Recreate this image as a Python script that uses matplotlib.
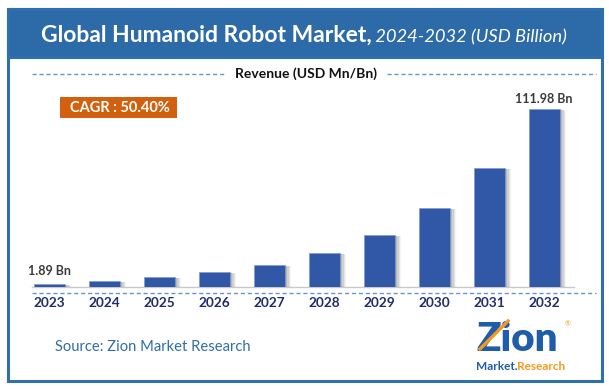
import matplotlib
matplotlib.use("Agg")
import matplotlib.pyplot as plt
from matplotlib.patches import Rectangle

# ---- data ----
years = ["2023", "2024", "2025", "2026", "2027", "2028", "2029", "2030", "2031", "2032"]
revenue = [1.89, 4.0, 6.7, 9.8, 14.2, 21.8, 33.1, 49.7, 74.9, 111.98]
label_first = "1.89 Bn"
label_last = "111.98 Bn"
title_bold = "Global Humanoid Robot Market,"
title_ital = " 2024-2032 (USD Billion)"
subtitle = "Revenue (USD Mn/Bn)"
cagr_text = "CAGR : 50.40%"
source_text = "Source: Zion Market Research"

W, H = 609, 389
FONT = "Lato"
fig = plt.figure(figsize=(W / 100, H / 100), dpi=100)
fig.patch.set_facecolor("white")

bg = fig.add_axes([0, 0, 1, 1])
bg.set_xlim(0, W)
bg.set_ylim(H, 0)
bg.axis("off")
r = fig.canvas.get_renderer()

border_c = "#2E6FAD"
header_c = "#2C6BA8"
# outer frame and header
bg.add_patch(Rectangle((7.5, 8.5), 594, 372, fill=False, edgecolor=border_c, lw=2.2, zorder=2))
bg.add_patch(Rectangle((7.5, 8.5), 594, 48.5, facecolor=header_c, edgecolor=border_c, lw=2.2, zorder=2))

# title (bold + italic parts, centered together)
t1 = bg.text(0, 42, title_bold, color="white", fontsize=16.5, fontweight="bold",
             family=FONT, ha="left", va="baseline", zorder=3)
t2 = bg.text(0, 42, title_ital, color="white", fontsize=13.2, fontstyle="italic",
             family=FONT, ha="left", va="baseline", zorder=3)
w1 = t1.get_window_extent(r).width
w2 = t2.get_window_extent(r).width
x0 = 304 - (w1 + w2) / 2
t1.set_x(x0)
t2.set_x(x0 + w1)

# subtitle with dashed lines
bg.plot([32, 225], [74, 74], color="#6F93CC", lw=1.0, ls=(0, (3, 2)), zorder=2)
bg.plot([387, 596], [74, 74], color="#6F93CC", lw=1.0, ls=(0, (3, 2)), zorder=2)
bg.text(306, 74, subtitle, color="#111111", fontsize=10, fontweight="bold",
        family=FONT, ha="center", va="center", zorder=3)

# CAGR box
bg.add_patch(Rectangle((60, 97), 117, 20.5, facecolor="#D2600E", edgecolor="none", zorder=2))
bg.text(120, 107.5, cagr_text, color="white", fontsize=10.5, fontweight="bold",
        family=FONT, ha="center", va="center", zorder=3)

# baseline and dashed line under bars
bg.plot([32, 574], [287.3, 287.3], color="#C9C9C9", lw=1.0, zorder=2)
bg.plot([32, 596], [292.5, 292.5], color="#6F93CC", lw=1.0, ls=(0, (3, 2)), zorder=2)

# source
bg.text(55, 347, source_text, color="#2E6DA8", fontsize=10.6, family=FONT,
        ha="left", va="center", zorder=3)

# logo (approximation)
bg.text(476, 351, "Zion", color="#1F5DAA", fontsize=29, fontweight="heavy",
        family=FONT, ha="left", va="baseline", zorder=3)
bg.plot([480, 508], [349, 321], color="#F39A1E", lw=2.4, zorder=4)
m1 = bg.text(476, 370, "Market.", color="#1F5DAA", fontsize=8.5, fontweight="bold",
             family=FONT, ha="left", va="baseline", zorder=3)
wm = m1.get_window_extent(r).width
bg.text(476 + wm, 370, "Research", color="#F39A1E", fontsize=8.5, fontweight="bold",
        family=FONT, ha="left", va="baseline", zorder=3)
bg.text(568, 324, "®", color="#F39A1E", fontsize=5, family=FONT, ha="center", va="center", zorder=3)

# ---- bar axes ----
base_px = 287.3
px_per_unit = 178.3 / 111.98
ymax = 120
ax_h = ymax * px_per_unit
ax_left, ax_w = 21.5, 550
ax = fig.add_axes([ax_left / W, (H - base_px) / H, ax_w / W, ax_h / H])
ax.set_facecolor("none")
ax.set_xlim(-0.5, len(years) - 0.5)
ax.set_ylim(0, ymax)
xs = list(range(len(years)))
bw = 31 / 55

# soft shadow
for off, a in [(0.05, 0.18), (0.075, 0.14), (0.10, 0.10), (0.125, 0.06)]:
    ax.bar([x + off for x in xs], [v - 0.6 for v in revenue], width=bw,
           color="#555555", alpha=a, edgecolor="none", zorder=1)
ax.bar(xs, revenue, width=bw, color="#3158A6", edgecolor="#7E9BD0", linewidth=0.5, zorder=3)

ax.set_xticks(xs)
ax.set_xticklabels(years, fontsize=9.8, fontweight="bold", color="#1F2D6B", family=FONT)
ax.tick_params(axis="x", length=0, pad=7)
ax.set_yticks([])
for s in ax.spines.values():
    s.set_visible(False)

ax.text(0, revenue[0] + 8.5, label_first, ha="center", va="center", fontsize=9,
        fontweight="bold", color="#3A3A3A", family=FONT)
ax.text(len(years) - 1, revenue[-1] + 6.3, label_last, ha="center", va="center",
        fontsize=9, fontweight="bold", color="#3A3A3A", family=FONT)

fig.savefig("out.png", dpi=100, facecolor="white")
